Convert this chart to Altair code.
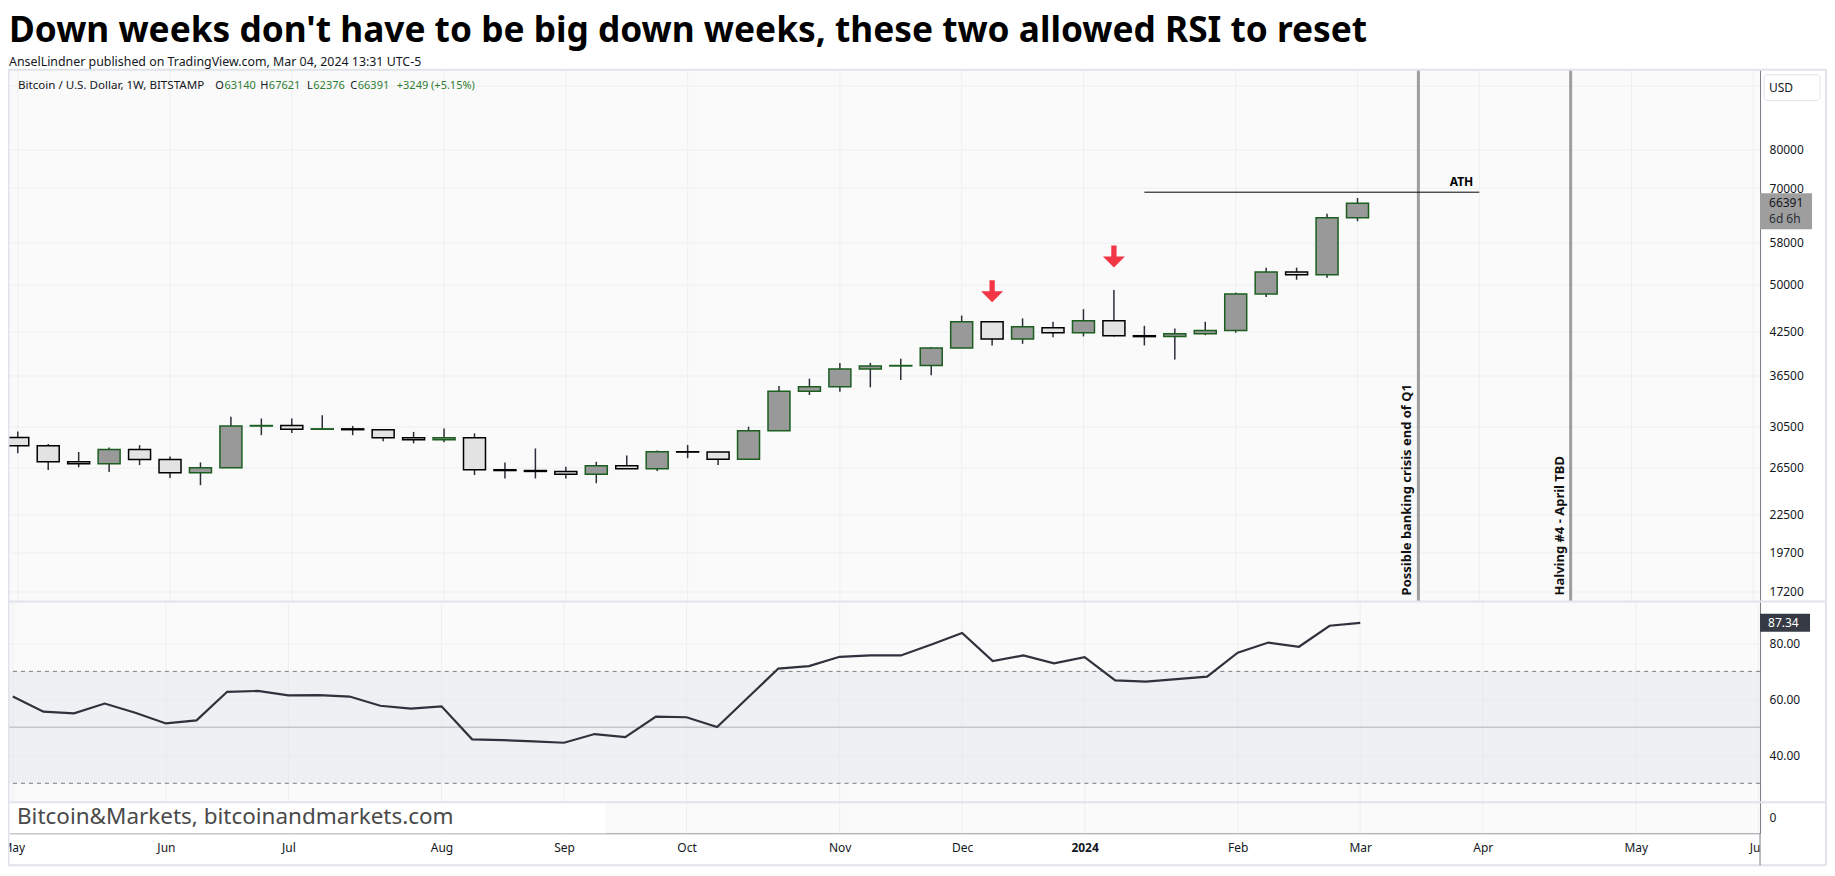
import altair as alt
import pandas as pd

TITLE = "Down weeks don't have to be big down weeks, these two allowed RSI to reset"
SUBTITLE = "AnselLindner published on TradingView.com, Mar 04, 2024 13:31 UTC-5"

# weekly candles, index 0 = week of May 1 2023 ... 44 = week of Mar 4 2024
WEEK = list(range(45))
OPEN = [29380, 28550, 27010, 26820, 28180, 27220, 26000, 26460, 30590, 30640,
        30250, 30290, 30200, 29360, 29170, 29360, 26270, 26200, 26120, 25870,
        26640, 26360, 27970, 27940, 27240, 30090, 34530, 35070, 37310, 37700,
        37750, 40130, 43960, 41420, 43060, 42320, 44120, 41880, 41750, 42150,
        42650, 48440, 52290, 51760, 63140]
HIGH = [30000, 28740, 27950, 28380, 28620, 27510, 26950, 31600, 31400, 31400,
        31760, 30600, 30250, 29970, 30330, 29820, 26950, 28290, 26540, 27010,
        27610, 28090, 28640, 27960, 30510, 35160, 36070, 38100, 38100, 38660,
        40260, 44920, 43960, 44480, 43960, 45930, 49100, 43350, 42940, 43960,
        48650, 53070, 53070, 64000, 67621]
LOW = [27830, 26240, 26500, 26070, 26700, 25520, 24900, 26460, 29630, 29850,
       30250, 29630, 29000, 28800, 28900, 25790, 25490, 25490, 25490, 25070,
       26360, 26150, 27350, 26700, 27240, 30090, 34070, 34450, 35000, 35890,
       36510, 40130, 40490, 40720, 41640, 41780, 41780, 40490, 38560, 41960,
       42330, 47900, 50880, 51230, 62376]
CLOSE = [28550, 27010, 26820, 28180, 27220, 26000, 26460, 30590, 30640, 30250,
         30290, 30200, 29360, 29170, 29360, 26270, 26200, 26120, 25870, 26640,
         26360, 27970, 27940, 27240, 30090, 34530, 35070, 37310, 37700, 37750,
         40130, 43960, 41420, 43210, 42320, 44120, 41880, 41750, 42150, 42650,
         48440, 52290, 51760, 63140, 66391]
RSI = [61.0, 55.6, 55.0, 58.5, 55.2, 51.4, 52.5, 62.7, 63.0, 61.4,
       61.5, 61.0, 57.7, 56.7, 57.5, 45.7, 45.4, 45.0, 44.5, 47.6,
       46.5, 53.8, 53.6, 50.1, 60.6, 71.0, 71.9, 75.2, 75.7, 75.7,
       79.6, 83.7, 73.7, 75.7, 72.9, 75.1, 66.8, 66.3, 67.2, 68.1,
       76.7, 80.3, 78.8, 86.3, 87.34]

MONTH_IDX = [0, 5, 9, 14, 18, 22, 27, 31, 35, 40, 44, 48, 53, 57]
MONTH_LABELS = ["May", "Jun", "Jul", "Aug", "Sep", "Oct", "Nov", "Dec", "2024",
                "Feb", "Mar", "Apr", "May", "Jun"]
PRICE_TICKS = [17200, 19700, 22500, 26500, 30500, 36500, 42500, 50000, 58000,
               70000, 80000, 100000]
RSI_TICKS = [40, 60, 80]
RSI_BAND = [30, 70]
RSI_MID = [50]
ZERO_TICK = [0]

ATH_PRICE = [69000]
ATH_FROM = [37]
ATH_TO = [48]
ATH_TEXT = ["ATH"]
EVENT_IDX = [46, 51]
EVENT_TEXT = ["Possible banking crisis end of Q1", "Halving #4 - April TBD"]
ARROW_IDX = [32, 36]
ARROW_PRICE = [48900, 55150]
LAST_PRICE = [66391]
LAST_RSI = [87.34]
COUNTDOWN = ["6d 6h"]
CHANGE_TEXT = "+3249 (+5.15%)"
LEGEND_NAME = "Bitcoin / U.S. Dollar, 1W, BITSTAMP"
WATERMARK = "Bitcoin&Markets, bitcoinandmarkets.com"

# ------------------------------------------------------------------
FONT = "Noto Sans"
W = 1752
H1, H2, H3 = 532, 201, 31
RIGHT = 1818
GRID = "#efeff2"
FRAME = "#e0e3eb"
AXISLINE = "#787b86"
TXT = "#131722"
GREEN = "#2e7d32"

candles = pd.DataFrame({"i": WEEK, "o": OPEN, "h": HIGH, "l": LOW, "c": CLOSE})
rsi_df = pd.DataFrame({"i": WEEK, "r": RSI})
months = pd.DataFrame({"m": MONTH_IDX})
events = pd.DataFrame({"e": EVENT_IDX, "t": EVENT_TEXT})
ath = pd.DataFrame({"s": ATH_FROM, "e": ATH_TO, "p": ATH_PRICE, "t": ATH_TEXT})
arrows = pd.DataFrame({"i": ARROW_IDX, "p": ARROW_PRICE})
last = pd.DataFrame({"p": LAST_PRICE, "t": [str(LAST_PRICE[0])], "cd": COUNTDOWN})
last_rsi = pd.DataFrame({"r": LAST_RSI, "t": ["%.2f" % LAST_RSI[0]]})
band = pd.DataFrame({"lo": [RSI_BAND[0]], "hi": [RSI_BAND[1]]})
levels = pd.DataFrame({"v": RSI_BAND})
mid = pd.DataFrame({"v": RSI_MID})
zero = pd.DataFrame({"z": ZERO_TICK})
ONE = pd.DataFrame({"k": [0]})

xs = alt.Scale(domain=[-0.124, 57.056], nice=False, zero=False)
ys = alt.Scale(type="log", domain=[16618, 105660], nice=False)
rs = alt.Scale(domain=[23.21, 95.0], nice=False, zero=False)
zs = alt.Scale(domain=[-1, 1], nice=False, zero=False)

common_y = dict(orient="right", title=None, ticks=False, domainColor=AXISLINE,
                domainWidth=1, labelColor=TXT, labelFontSize=12, labelFont=FONT,
                labelPadding=9, labelFlush=False, labelOverlap=False,
                gridColor=GRID, gridWidth=1)
yax1 = alt.Axis(values=PRICE_TICKS, format="d", grid=True,
                labelExpr="datum.value >= 100000 ? '' : datum.label", **common_y)
yax2 = alt.Axis(values=RSI_TICKS, format=".2f", grid=True, **common_y)
yax3 = alt.Axis(values=ZERO_TICK, format="d", grid=False, **common_y)

lbl_expr = ("[" + ",".join("'%s'" % s for s in MONTH_LABELS) + "][indexof(["
            + ",".join(str(v) for v in MONTH_IDX) + "], datum.value)]")
xax = alt.Axis(values=MONTH_IDX, labelExpr=lbl_expr, title=None, ticks=False,
               grid=False, domain=True, domainColor="#9598a1", domainWidth=1,
               labelColor=TXT, labelFontSize=12, labelFont=FONT, labelPadding=9,
               labelFlush=False, labelOverlap=False,
               labelFontWeight={"condition": {"test": "datum.value == 35", "value": "bold"},
                                "value": "normal"})


def px_hline(y, x1, x2, color, width):
    return alt.Chart(ONE).mark_rule(color=color, strokeWidth=width).encode(
        x=alt.value(x1), x2=alt.value(x2), y=alt.value(y))


def px_vline(x, y1, y2, color, width):
    return alt.Chart(ONE).mark_rule(color=color, strokeWidth=width).encode(
        x=alt.value(x), y=alt.value(y1), y2=alt.value(y2))


def px_rect(x1, x2, y1, y2, fill):
    return alt.Chart(ONE).mark_rect(fill=fill).encode(
        x=alt.value(x1), x2=alt.value(x2), y=alt.value(y1), y2=alt.value(y2))


def px_text(txt, x, y, color=TXT, size=11, align="left", weight="normal", font=FONT):
    return alt.Chart(ONE).mark_text(align=align, baseline="middle", fontSize=size,
                                    color=color, font=font, fontWeight=weight).encode(
        x=alt.value(x), y=alt.value(y), text=alt.value(txt))


def vgrid(axis=None):
    return alt.Chart(months).mark_rule(color=GRID, strokeWidth=1).encode(
        x=alt.X("m:Q", scale=xs, axis=axis, title=None))


X = alt.X("i:Q", scale=xs, axis=None, title=None)

# ---------------- price pane ----------------
wicks = alt.Chart(candles).mark_rule(color="#2a2e39", strokeWidth=1.5).encode(
    x=X, y=alt.Y("l:Q", scale=ys, axis=yax1, title=None), y2="h:Q")
up = alt.Chart(candles).transform_filter("datum.c >= datum.o").mark_bar(
    size=22, fill="#999999", stroke="#1b5e20", strokeWidth=1.5).encode(
    x=X, y=alt.Y("o:Q", scale=ys, axis=yax1, title=None), y2="c:Q")
down = alt.Chart(candles).transform_filter("datum.c < datum.o").mark_bar(
    size=22, fill="#e3e3e3", stroke="#000000", strokeWidth=1.5).encode(
    x=X, y=alt.Y("o:Q", scale=ys, axis=yax1, title=None), y2="c:Q")

event_lines = alt.Chart(events).mark_rule(color="#9e9e9e", strokeWidth=3).encode(
    x=alt.X("e:Q", scale=xs, axis=None, title=None))
event_text = alt.Chart(events).mark_text(angle=270, align="left", baseline="alphabetic",
                                         dy=-7, fontSize=13, fontWeight="bold",
                                         font=FONT, color="#111111").encode(
    x=alt.X("e:Q", scale=xs, axis=None, title=None), y=alt.value(526), text="t:N")

ath_line = alt.Chart(ath).mark_rule(color="#000000", strokeWidth=1).encode(
    x=alt.X("s:Q", scale=xs, axis=None, title=None), x2="e:Q",
    y=alt.Y("p:Q", scale=ys, axis=yax1, title=None))
ath_text = alt.Chart(ath).mark_text(align="right", baseline="alphabetic", dx=-6, dy=-6,
                                    fontSize=12, fontWeight="bold", font=FONT,
                                    color="#000000").encode(
    x=alt.X("e:Q", scale=xs, axis=None, title=None),
    y=alt.Y("p:Q", scale=ys, axis=yax1, title=None), text="t:N")

ARROW_PATH = "M-0.24,-1L0.24,-1L0.24,0L1,0L0,1L-1,0L-0.24,0Z"
arrow_marks = alt.Chart(arrows).mark_point(shape=ARROW_PATH, filled=True, size=484,
                                           color="#f23645", opacity=1, strokeWidth=0).encode(
    x=X, y=alt.Y("p:Q", scale=ys, axis=yax1, title=None))

usd_box = alt.Chart(ONE).mark_rect(fill="white", stroke=FRAME, strokeWidth=1,
                                   cornerRadius=4).encode(
    x=alt.value(1756), x2=alt.value(1812), y=alt.value(5), y2=alt.value(31))
usd_text = px_text("USD", 1761, 18, size=12)

last_box = alt.Chart(last).mark_rect(fill="#9e9e9e", yOffset=-10, y2Offset=26).encode(
    x=alt.value(1752), x2=alt.value(1804),
    y=alt.Y("p:Q", scale=ys, axis=yax1, title=None), y2="p:Q")
last_text = alt.Chart(last).mark_text(align="left", baseline="middle", fontSize=12,
                                      font=FONT, color=TXT).encode(
    x=alt.value(1761), y=alt.Y("p:Q", scale=ys, axis=yax1, title=None), text="t:N")
last_cd = alt.Chart(last).mark_text(align="left", baseline="middle", fontSize=12, dy=16,
                                    font=FONT, color="#2a2e39").encode(
    x=alt.value(1761), y=alt.Y("p:Q", scale=ys, axis=yax1, title=None), text="cd:N")

legend_layers = [px_text(LEGEND_NAME, 9, 16, size=11.6)]
num_x = [215.5, 260, 304.5, 349]
for letter, val, nx in zip("OHLC", [OPEN[-1], HIGH[-1], LOW[-1], CLOSE[-1]], num_x):
    legend_layers.append(px_text(letter, nx - 0.5, 16, align="right"))
    legend_layers.append(px_text(str(val), nx, 16, color=GREEN))
legend_layers.append(px_text(CHANGE_TEXT, 388, 16, color=GREEN))

frame1 = [px_hline(0, -1, RIGHT, FRAME, 2), px_vline(-0.5, 0, H1, FRAME, 2),
          px_vline(RIGHT, 0, H1, FRAME, 2)]

price = alt.layer(
    vgrid(), event_lines, wicks, up, down, ath_line, ath_text, arrow_marks,
    event_text, *legend_layers, usd_box, usd_text, last_box, last_text, last_cd,
    *frame1
).properties(width=W, height=H1)

# ---------------- RSI pane ----------------
band_rect = alt.Chart(band).mark_rect(fill="#e2e4ea", opacity=0.45).encode(
    x=alt.value(0), x2=alt.value(W),
    y=alt.Y("lo:Q", scale=rs, axis=yax2, title=None), y2="hi:Q")
level_rules = alt.Chart(levels).mark_rule(color=AXISLINE, strokeWidth=1,
                                          strokeDash=[4, 4]).encode(
    y=alt.Y("v:Q", scale=rs, axis=yax2, title=None))
mid_rule = alt.Chart(mid).mark_rule(color="#c4c6cc", strokeWidth=1.5).encode(
    y=alt.Y("v:Q", scale=rs, axis=yax2, title=None))
rsi_line = alt.Chart(rsi_df).mark_line(color="#2f323c", strokeWidth=2.2).encode(
    x=X, y=alt.Y("r:Q", scale=rs, axis=yax2, title=None))
rsi_box = alt.Chart(last_rsi).mark_rect(fill="#363a45", yOffset=-9, y2Offset=9).encode(
    x=alt.value(1752), x2=alt.value(1802),
    y=alt.Y("r:Q", scale=rs, axis=yax2, title=None), y2="r:Q")
rsi_text = alt.Chart(last_rsi).mark_text(align="left", baseline="middle", fontSize=12,
                                         font=FONT, color="white").encode(
    x=alt.value(1760), y=alt.Y("r:Q", scale=rs, axis=yax2, title=None), text="t:N")
frame2 = [px_hline(0, -1, RIGHT, FRAME, 2), px_vline(-0.5, 0, H2, FRAME, 2),
          px_vline(RIGHT, 0, H2, FRAME, 2)]

rsi_pane = alt.layer(
    vgrid(), band_rect, level_rules, mid_rule, rsi_line, rsi_box, rsi_text, *frame2
).properties(width=W, height=H2)

# ---------------- bottom pane with time axis ----------------
zero_carrier = alt.Chart(zero).mark_rule(opacity=0).encode(
    y=alt.Y("z:Q", scale=zs, axis=yax3, title=None))
wm_box = px_rect(0, 597, 0, H3, "white")
wm_text = px_text(WATERMARK, 8, 15, color="#4a4a4a", size=22.5)
frame3 = [px_rect(W + 1, RIGHT - 1, H3 + 1, H3 + 31, "white"),
          px_hline(0, -1, RIGHT, FRAME, 2), px_vline(-0.5, 0, H3 + 32, FRAME, 2),
          px_vline(RIGHT, 0, H3 + 32, FRAME, 2), px_hline(H3 + 32, -1, RIGHT, FRAME, 2),
          px_vline(W, H3, H3 + 32, AXISLINE, 1)]

bottom = alt.layer(
    vgrid(xax), wm_box, wm_text, zero_carrier, *frame3
).properties(width=W, height=H3)

chart = alt.vconcat(price, rsi_pane, bottom, spacing=0, bounds="flush").properties(
    title=alt.TitleParams(text=TITLE, subtitle=SUBTITLE, anchor="start", frame="group",
                          font=FONT, fontSize=35.3, fontWeight="bold", color="#000000",
                          subtitleFont=FONT, subtitleFontSize=12.4, subtitleColor=TXT,
                          subtitlePadding=7, offset=0),
    padding={"left": -8, "top": 4.5, "right": 0, "bottom": 0},
    background="white",
).configure_view(stroke=None, fill="#fafafa")

chart.save("out.html", embed_options={"renderer": "svg", "actions": False})
